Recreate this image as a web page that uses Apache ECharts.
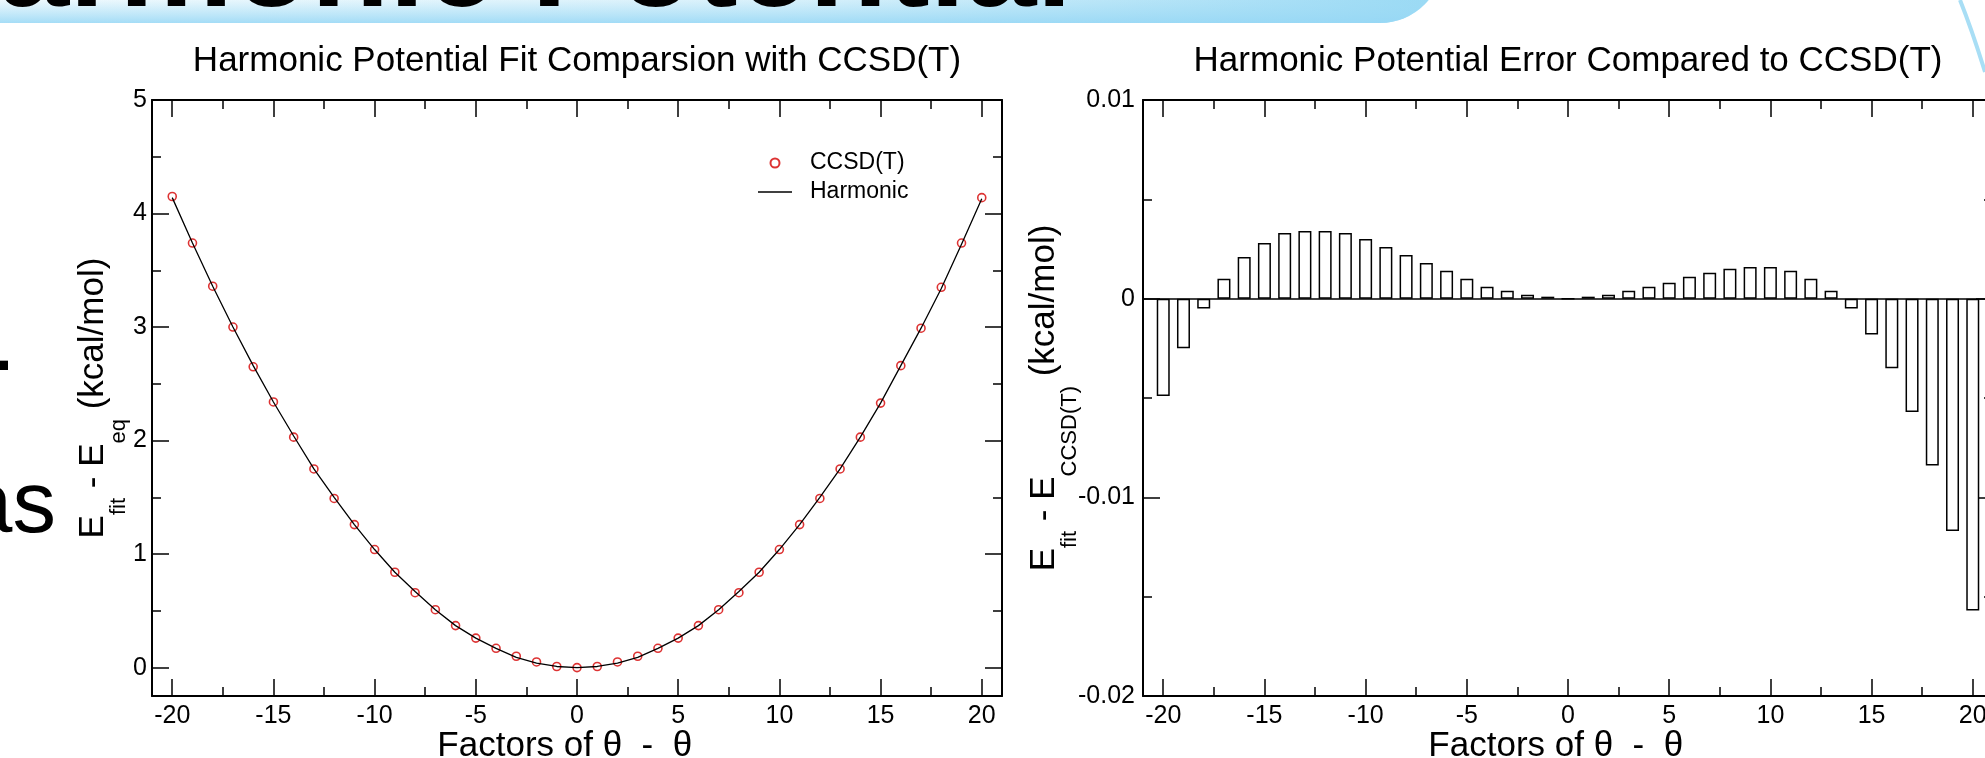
<!DOCTYPE html>
<html>
<head>
<meta charset="utf-8">
<script src="https://cdn.jsdelivr.net/npm/echarts@6/dist/echarts.min.js"></script>
<style>
html,body{margin:0;padding:0;background:#fff;}
#chart{width:1985px;height:758px;}
</style>
</head>
<body>
<div id="chart"></div>
<script>
// ---------------- data ----------------
const xValues = [-20,-19,-18,-17,-16,-15,-14,-13,-12,-11,-10,-9,-8,-7,-6,-5,-4,-3,-2,-1,0,1,2,3,4,5,6,7,8,9,10,11,12,13,14,15,16,17,18,19,20];
const ccsdValues = [4.15,3.74,3.36,3.00,2.65,2.34,2.03,1.75,1.49,1.26,1.04,0.84,0.66,0.51,0.37,0.26,0.17,0.10,0.05,0.01,0.00,0.01,0.05,0.10,0.17,0.26,0.37,0.51,0.66,0.84,1.04,1.26,1.49,1.75,2.03,2.33,2.66,2.99,3.35,3.74,4.14];
const harmonicValues = [4.14,3.74,3.36,3.00,2.66,2.34,2.04,1.75,1.50,1.26,1.04,0.84,0.67,0.51,0.37,0.26,0.17,0.09,0.04,0.01,0.00,0.01,0.04,0.09,0.17,0.26,0.37,0.51,0.67,0.84,1.04,1.26,1.50,1.75,2.03,2.33,2.66,2.99,3.34,3.73,4.13];
const errorValues = [-0.0049,-0.0025,-0.0005,0.0010,0.0021,0.0028,0.0033,0.0034,0.0034,0.0033,0.0030,0.0026,0.0022,0.0018,0.0014,0.0010,0.0006,0.0004,0.0002,0.0001,0,0.0001,0.0002,0.0004,0.0006,0.0008,0.0011,0.0013,0.0015,0.0016,0.0016,0.0014,0.0010,0.0004,-0.0005,-0.0018,-0.0035,-0.0057,-0.0084,-0.0117,-0.0157];
const xMajorTicks = [-20,-15,-10,-5,0,5,10,15,20];
const xMinorTicks = [-17.5,-12.5,-7.5,-2.5,2.5,7.5,12.5,17.5];
const yLeftMajorTicks = [0,1,2,3,4,5];
const yLeftMinorTicks = [0.5,1.5,2.5,3.5,4.5];
const yRightMajorTicks = [-0.02,-0.01,0,0.01];
const yRightMinorTicks = [-0.015,-0.005,0.005];
const leftTitle = 'Harmonic Potential Fit Comparsion with CCSD(T)';
const rightTitle = 'Harmonic Potential Error Compared to CCSD(T)';
const seriesNames = ['CCSD(T)','Harmonic'];

// ---------------- styling helpers ----------------
const FONT = '"Liberation Sans", Arial, Helvetica, sans-serif';
const rich = {
  m: {fontSize: 35, lineHeight: 40, verticalAlign: 'top', fontFamily: FONT, color: '#000'},
  s: {fontSize: 22, lineHeight: 22, verticalAlign: 'top', padding: [32, 0, 0, 0], fontFamily: FONT, color: '#000'}
};
const lineStyle = {color: '#000', width: 2};
const tickStyle = {color: '#000', width: 1.5};
const labelStyle = {fontSize: 25, color: '#000', fontFamily: FONT};

function xAxes(grid, nameText) {
  const base = {gridIndex: grid, type: 'value', min: -21, max: 21, splitLine: {show: false}};
  return [
    Object.assign({}, base, {position: 'bottom',
      axisLine: {show: true, onZero: false, lineStyle: lineStyle},
      axisTick: {show: true, inside: true, length: 17, customValues: xMajorTicks, lineStyle: tickStyle},
      axisLabel: Object.assign({show: true, customValues: xMajorTicks, margin: 8}, labelStyle),
      name: nameText, nameLocation: 'middle', nameGap: 33, nameMoveOverlap: false, nameTextStyle: {rich: rich}}),
    Object.assign({}, base, {position: 'bottom',
      axisLine: {show: false, onZero: false},
      axisTick: {show: true, inside: true, length: 9, customValues: xMinorTicks, lineStyle: tickStyle},
      axisLabel: {show: false}}),
    Object.assign({}, base, {position: 'top',
      axisLine: {show: true, onZero: false, lineStyle: lineStyle},
      axisTick: {show: true, inside: true, length: 17, customValues: xMajorTicks, lineStyle: tickStyle},
      axisLabel: {show: false}}),
    Object.assign({}, base, {position: 'top',
      axisLine: {show: false, onZero: false},
      axisTick: {show: true, inside: true, length: 9, customValues: xMinorTicks, lineStyle: tickStyle},
      axisLabel: {show: false}})
  ];
}
function yAxes(grid, min, max, major, minor, nameText, nameGap, labelMargin) {
  const base = {gridIndex: grid, type: 'value', min: min, max: max, splitLine: {show: false}};
  return [
    Object.assign({}, base, {position: 'left',
      axisLine: {show: true, onZero: false, lineStyle: lineStyle},
      axisTick: {show: true, inside: true, length: 17, customValues: major, lineStyle: tickStyle},
      axisLabel: Object.assign({show: true, customValues: major, margin: labelMargin}, labelStyle),
      name: nameText, nameLocation: 'middle', nameGap: nameGap, nameRotate: 90, nameMoveOverlap: false,
      nameTextStyle: {rich: rich}}),
    Object.assign({}, base, {position: 'left',
      axisLine: {show: false, onZero: false},
      axisTick: {show: true, inside: true, length: 9, customValues: minor, lineStyle: tickStyle},
      axisLabel: {show: false}}),
    Object.assign({}, base, {position: 'right',
      axisLine: {show: true, onZero: false, lineStyle: lineStyle},
      axisTick: {show: true, inside: true, length: 17, customValues: major, lineStyle: tickStyle},
      axisLabel: {show: false}}),
    Object.assign({}, base, {position: 'right',
      axisLine: {show: false, onZero: false},
      axisTick: {show: true, inside: true, length: 9, customValues: minor, lineStyle: tickStyle},
      axisLabel: {show: false}})
  ];
}

const xName = '{m|Factors of θ  -  θ}{s|eq}';
const yNameLeft = '{m|E}{s|fit}{m| - E}{s|eq}{m| (kcal/mol)}';
const yNameRight = '{m|E}{s|fit}{m| - E}{s|CCSD(T)}{m| (kcal/mol)}';

const zip = (xs, ys) => xs.map((x, i) => [x, ys[i]]);

const option = {
  animation: false,
  backgroundColor: '#fff',
  textStyle: {fontFamily: FONT},
  title: [
    {text: leftTitle, left: 577, top: 44, textAlign: 'center', padding: 0,
     textStyle: {fontSize: 35, fontWeight: 'normal', fontFamily: FONT, color: '#000'}},
    {text: rightTitle, left: 1568, top: 44, textAlign: 'center', padding: 0,
     textStyle: {fontSize: 35, fontWeight: 'normal', fontFamily: FONT, color: '#000'}}
  ],
  legend: {
    data: [{name: seriesNames[0]}, {name: seriesNames[1], icon: 'path://M0,0 L34,0 L34,1.4 L0,1.4 Z'}],
    orient: 'vertical', left: 758, top: 150, padding: 0,
    itemWidth: 34, itemHeight: 9, itemGap: 3, selectedMode: false,
    textStyle: {fontSize: 23, lineHeight: 26, color: '#000', fontFamily: FONT, padding: [0, 0, 0, 13]}
  },
  grid: [
    {left: 152, top: 100, width: 850, height: 596, outerBoundsMode: 'none', containLabel: false},
    {left: 1143, top: 100, width: 850, height: 596, outerBoundsMode: 'none', containLabel: false}
  ],
  xAxis: xAxes(0, xName).concat(xAxes(1, xName)),
  yAxis: yAxes(0, -0.25, 5, yLeftMajorTicks, yLeftMinorTicks, yNameLeft, 36, 5)
    .concat(yAxes(1, -0.02, 0.01, yRightMajorTicks, yRightMinorTicks, yNameRight, 76, 8)),
  series: [
    {name: seriesNames[0], type: 'scatter', xAxisIndex: 0, yAxisIndex: 0,
     data: zip(xValues, ccsdValues), symbol: 'circle', symbolSize: 8,
     itemStyle: {color: 'rgba(0,0,0,0)', borderColor: '#d40000', borderWidth: 1.6}, z: 2},
    {name: seriesNames[1], type: 'line', xAxisIndex: 0, yAxisIndex: 0,
     data: zip(xValues, harmonicValues), symbol: 'none',
     lineStyle: {color: '#000', width: 1.3}, itemStyle: {color: '#000'}, z: 3},
    {name: 'error', type: 'bar', xAxisIndex: 4, yAxisIndex: 4,
     data: zip(xValues, errorValues), barWidth: 13,
     itemStyle: {color: '#fff', borderColor: '#000', borderWidth: 1.5},
     markLine: {silent: true, symbol: 'none', label: {show: false},
       lineStyle: {color: '#000', type: 'solid', width: 1.5},
       data: [{yAxis: 0}]}}
  ],
  graphic: [
    {type: 'rect', z: -10, shape: {x: -40, y: -40, width: 1483, height: 63, r: [0, 0, 63, 0]},
     style: {fill: {type: 'linear', x: 0, y: 0, x2: 1, y2: 0,
       colorStops: [{offset: 0, color: '#ffffff'}, {offset: 0.55, color: '#e4f5fc'}, {offset: 1, color: '#98d9f4'}]}}},
    {type: 'rect', z: -9, shape: {x: -40, y: -40, width: 1483, height: 63, r: [0, 0, 63, 0]},
     style: {fill: {type: 'linear', x: 0, y: 0, x2: 0, y2: 1,
       colorStops: [{offset: 0, color: 'rgba(160,220,245,0)'}, {offset: 0.6, color: 'rgba(160,220,245,0.1)'}, {offset: 1, color: 'rgba(150,215,245,0.85)'}]}}},
    {type: 'text', z: -8, x: 1072, y: -29,
     style: {text: 'Harmonic Potential', font: 'bold 128px "Liberation Sans", Arial, sans-serif',
       fill: '#000', textAlign: 'right', textVerticalAlign: 'middle', align: 'right', verticalAlign: 'middle'}},
    {type: 'bezierCurve', z: -8, shape: {x1: 1960, y1: 0, x2: 1985, y2: 72, cpx1: 1972, cpy1: 30},
     style: {stroke: '#a8def5', lineWidth: 4, fill: null}},
    {type: 'text', x: 16, y: 346,
     style: {text: '.', font: '87px "Liberation Sans", Arial, sans-serif', fill: '#000',
       textAlign: 'right', align: 'right', textVerticalAlign: 'middle', verticalAlign: 'middle'}},
    {type: 'text', x: 56, y: 508,
     style: {text: 'as', font: '87px "Liberation Sans", Arial, sans-serif', fill: '#000',
       textAlign: 'right', align: 'right', textVerticalAlign: 'middle', verticalAlign: 'middle'}}
  ]
};

const chart = echarts.init(document.getElementById('chart'), null, {renderer: 'canvas'});
chart.setOption(option);
</script>
</body>
</html>
